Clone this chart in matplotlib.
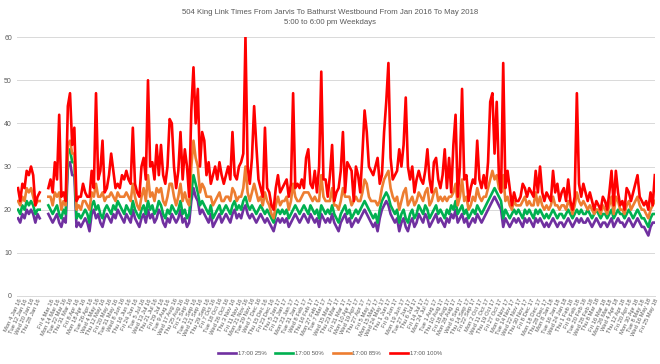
import numpy as np
import pandas as pd
import matplotlib
matplotlib.use("Agg")
import matplotlib.pyplot as plt
from matplotlib import font_manager

NA = np.nan

# holidays left out of the weekday axis
holidays = ['2016-03-25', '2016-05-23', '2016-07-01', '2016-08-01', '2016-09-05', '2016-10-10',
            '2016-12-26', '2016-12-27', '2017-01-02', '2017-02-20', '2017-04-14', '2017-05-22',
            '2017-07-03', '2017-08-07', '2017-09-04', '2017-10-09', '2017-12-25', '2017-12-26',
            '2018-01-01', '2018-02-19', '2018-03-30', '2018-05-21']

series_names = ['17:00 25%', '17:00 50%', '17:00 85%', '17:00 100%']
colors = ['#7030A0', '#00B050', '#ED7D31', '#FF0000']

# one reading every second weekday (minutes)
p100 = [25, 22, 26, 25, 29, 28, 30, 28, 21, 23,
        24, NA, NA, NA, 25, 27, 24, 31, 27, 42,
        23, 24, 22, 44, 47, 35, 39, 22, 23, 23,
        26, 24, 23, 23, 29, 25, 47, 27, 29, 36,
        24, 25, 28, 33, 29, 25, 26, 25, 28, 27,
        29, 27, 26, 39, 26, 24, 23, 30, 32, 27,
        50, 30, 31, 27, 35, 28, 35, 28, 26, 30,
        41, 40, 30, 25, 29, 38, 27, 34, 30, 23,
        43, 53, 40, 48, 30, 38, 36, 28, 31, 26,
        28, 30, 27, 31, 28, 26, 28, 30, 27, 38,
        28, 27, 30, 31, 33, 60, 30, 26, 32, 44,
        35, 27, 25, 23, 39, 25, 24, 21, 20, 25,
        28, 24, 25, 26, 27, 23, 26, 47, 25, 26,
        25, 27, 25, 32, 34, 26, 25, 29, 24, 30,
        52, 27, 27, 23, 28, 35, 22, 24, 25, 29,
        38, 24, 31, 30, 29, 22, 30, 28, 24, 33,
        43, 38, 30, 29, 28, 30, 32, 26, 28, 38,
        45, 54, 32, 27, 28, 29, 34, 30, 35, 46,
        30, 27, 30, 24, 27, 29, 27, 26, 29, 34,
        27, 24, 31, 32, 27, 25, 28, 34, 25, 32,
        24, 35, 42, 23, 30, 48, 27, 28, 22, 25,
        27, 26, 36, 27, 25, 28, 25, 31, 45, 47,
        33, 45, 28, 24, 54, 25, 29, 25, 21, 24,
        22, 22, 23, 26, 25, 23, 25, 24, 23, 29,
        24, 30, 24, 22, 24, 23, 22, 29, 24, 26,
        22, 24, 25, 22, 27, 22, 20, 23, 47, 26,
        23, 26, 24, 22, 24, 22, 20, 22, 21, 20,
        23, 22, 20, 24, 29, 21, 29, 24, 21, 22,
        20, 25, 24, 22, 24, 26, 28, 23, 22, 21,
        22, 20, 24, 21, 28]

p25 = [18, 17, 19, 18, 20, 19, 20, 19, 17, 19,
       18, NA, NA, NA, 19, 18, 17, 18, 19, 17,
       16, 18, 17, 30, 31, 28, 28, 16, 17, 16,
       17, 18, 17, 15, 19, 20, 18, 19, 17, 16,
       18, 19, 18, 17, 19, 18, 20, 19, 18, 17,
       19, 18, 17, 20, 18, 17, 16, 18, 19, 17,
       20, 18, 19, 17, 18, 20, 19, 17, 16, 18,
       17, 19, 18, 17, 18, 20, 17, 18, 16, 17,
       22, 25, 23, 22, 19, 20, 19, 18, 17, 19,
       16, 17, 18, 19, 17, 18, 19, 18, 17, 19,
       20, 18, 19, 18, 20, 21, 19, 18, 19, 18,
       17, 18, 19, 18, 17, 18, 17, 16, 15, 17,
       18, 17, 18, 17, 18, 16, 17, 18, 19, 18,
       17, 18, 19, 18, 17, 19, 18, 17, 18, 16,
       19, 18, 17, 18, 17, 19, 17, 16, 15, 17,
       18, 19, 17, 18, 16, 17, 18, 17, 18, 19,
       20, 19, 18, 17, 16, 17, 15, 18, 20, 21,
       22, 21, 19, 18, 17, 18, 15, 17, 18, 16,
       15, 17, 18, 16, 17, 19, 18, 17, 19, 18,
       16, 17, 18, 19, 17, 18, 17, 16, 18, 17,
       19, 18, 20, 17, 18, 19, 17, 18, 16, 17,
       18, 17, 19, 18, 17, 18, 19, 20, 21, 22,
       23, 22, 21, 20, 16, 18, 17, 16, 17, 18,
       17, 18, 17, 16, 18, 17, 18, 17, 16, 18,
       17, 18, 17, 16, 17, 16, 17, 18, 17, 16,
       17, 17, 16, 17, 18, 17, 16, 17, 18, 17,
       18, 17, 17, 18, 17, 16, 17, 18, 17, 16,
       17, 17, 16, 17, 18, 16, 17, 18, 17, 17,
       16, 17, 18, 17, 16, 17, 18, 17, 16, 16,
       15, 14, 16, 17, 17]

p50 = [20, 19, 21, 20, 22, 21, 22, 21, 19, 20,
       20, NA, NA, NA, 21, 20, 19, 20, 21, 19,
       18, 20, 19, 33, 34, 31, 31, 18, 19, 18,
       19, 20, 19, 17, 21, 22, 20, 21, 19, 18,
       20, 21, 20, 19, 21, 20, 22, 21, 20, 19,
       21, 20, 19, 22, 20, 19, 18, 20, 21, 19,
       22, 20, 21, 19, 20, 22, 21, 19, 18, 20,
       19, 21, 20, 19, 20, 22, 19, 20, 18, 19,
       24, 28, 26, 24, 21, 22, 21, 20, 19, 21,
       18, 19, 20, 21, 19, 20, 21, 20, 19, 21,
       22, 20, 21, 20, 22, 23, 21, 20, 21, 20,
       19, 20, 21, 20, 19, 20, 19, 18, 17, 19,
       20, 19, 20, 19, 20, 18, 19, 20, 21, 20,
       19, 20, 21, 20, 19, 21, 20, 19, 20, 18,
       21, 20, 19, 20, 19, 21, 19, 18, 17, 19,
       20, 21, 19, 20, 18, 19, 20, 19, 20, 21,
       22, 21, 20, 19, 18, 19, 17, 20, 22, 23,
       24, 23, 21, 20, 19, 20, 17, 19, 20, 18,
       17, 19, 20, 18, 19, 21, 20, 19, 21, 20,
       18, 19, 20, 21, 19, 20, 19, 18, 20, 19,
       21, 20, 22, 19, 20, 21, 19, 20, 18, 19,
       20, 19, 21, 20, 19, 20, 21, 22, 23, 24,
       25, 24, 23, 22, 18, 20, 19, 18, 19, 20,
       19, 20, 19, 18, 20, 19, 20, 19, 18, 20,
       19, 20, 19, 18, 19, 18, 19, 20, 19, 18,
       19, 19, 18, 19, 20, 19, 18, 19, 20, 19,
       20, 19, 19, 20, 19, 18, 19, 20, 19, 18,
       19, 19, 18, 19, 20, 18, 19, 20, 19, 19,
       18, 19, 20, 19, 18, 19, 20, 19, 18, 18,
       17, 16, 18, 19, 19]

p85 = [22, 21, 23, 22, 25, 24, 25, 23, 21, 22,
       22, NA, NA, NA, 23, 23, 21, 24, 23, 24,
       20, 22, 21, 35, 36, 33, 33, 20, 21, 20,
       22, 22, 21, 20, 24, 23, 26, 23, 23, 24,
       22, 23, 23, 24, 23, 22, 24, 23, 23, 23,
       24, 23, 22, 26, 23, 21, 20, 23, 25, 22,
       28, 23, 24, 22, 25, 24, 25, 22, 21, 23,
       26, 26, 23, 21, 23, 26, 22, 24, 22, 21,
       30, 36, 32, 30, 24, 26, 25, 23, 23, 23,
       21, 22, 23, 24, 22, 22, 23, 23, 22, 25,
       24, 22, 23, 23, 25, 30, 24, 22, 24, 26,
       24, 22, 23, 21, 24, 22, 21, 19, 18, 21,
       23, 21, 22, 22, 23, 20, 22, 26, 23, 22,
       22, 23, 24, 24, 24, 23, 22, 23, 22, 22,
       28, 23, 22, 22, 22, 25, 21, 21, 20, 22,
       25, 23, 23, 23, 21, 22, 23, 22, 22, 24,
       27, 26, 23, 22, 22, 22, 21, 22, 25, 27,
       28, 29, 25, 23, 22, 23, 20, 22, 24, 25,
       21, 22, 23, 21, 22, 24, 23, 22, 24, 25,
       21, 22, 24, 25, 22, 23, 22, 23, 22, 23,
       23, 24, 26, 21, 23, 27, 22, 23, 20, 21,
       23, 22, 25, 23, 22, 23, 23, 25, 27, 29,
       27, 28, 25, 24, 28, 22, 23, 21, 20, 22,
       21, 21, 21, 22, 23, 21, 22, 21, 21, 24,
       21, 23, 21, 20, 21, 20, 21, 23, 21, 21,
       20, 21, 21, 20, 22, 21, 19, 21, 24, 22,
       21, 22, 21, 20, 21, 20, 19, 20, 20, 19,
       21, 20, 19, 21, 23, 19, 23, 22, 20, 20,
       19, 21, 22, 20, 21, 22, 23, 21, 20, 20,
       19, 18, 20, 21, 22]

# category axis: weekdays, with an unlabelled gap in February 2016
jan = pd.bdate_range('2016-01-04', '2016-02-02')
rest = pd.bdate_range('2016-03-01', periods=562, freq='C', holidays=holidays)
fmt = lambda d: f"{d:%a} {d.day} {d:%b %y}"
categories = [fmt(d) for d in jan] + [''] * 5 + [fmt(d) for d in rest]
n_cat = len(categories)

# pick a narrow font if one is there
family = 'Liberation Sans'
try:
    font_manager.findfont('Liberation Sans Narrow', fallback_to_default=False)
    family = 'Liberation Sans Narrow'
except Exception:
    pass
plt.rcParams['font.family'] = family

fig = plt.figure(figsize=(6.6, 3.64), dpi=100)
ax = fig.add_axes([0.0265, 0.187, 0.9665, 0.711])

xs = np.arange(len(p100)) * 2
for vals, name, c in zip([p25, p50, p85, p100], series_names, colors):
    ax.plot(xs, vals, color=c, lw=1.9, label=name, solid_joinstyle='round')

ax.set_xlim(-0.5, n_cat - 0.5)
ax.set_ylim(0, 60)
ax.set_yticks(range(0, 61, 10))
ax.grid(axis='y', color='#D9D9D9', lw=0.7)
ax.set_axisbelow(True)
for s in ['top', 'right', 'left']:
    ax.spines[s].set_visible(False)
ax.spines['bottom'].set_color('#D9D9D9')
ax.spines['bottom'].set_linewidth(0.7)

ticks = list(range(0, n_cat, 6))
ax.set_xticks(ticks)
ax.set_xticklabels([categories[i] for i in ticks], rotation=65, ha='right',
                   rotation_mode='anchor', fontsize=4.2, color='#595959')
ax.tick_params(axis='x', length=0, pad=1.5)
ax.tick_params(axis='y', length=0, labelsize=5, labelcolor='#595959', pad=4)

fig.text(0.5, 0.952, '504 King Link Times From Jarvis To Bathurst Westbound From Jan 2016 To May 2018\n'
         '5:00 to 6:00 pm Weekdays', ha='center', va='center', fontsize=5.6,
         color='#595959', linespacing=1.7)

fig.legend(loc='center', bbox_to_anchor=(0.5, 0.028), ncol=4, frameon=False,
           fontsize=4.3, handlelength=3, handletextpad=0.3, columnspacing=1.5,
           labelcolor='#595959')

fig.savefig('out.png', dpi=100)
